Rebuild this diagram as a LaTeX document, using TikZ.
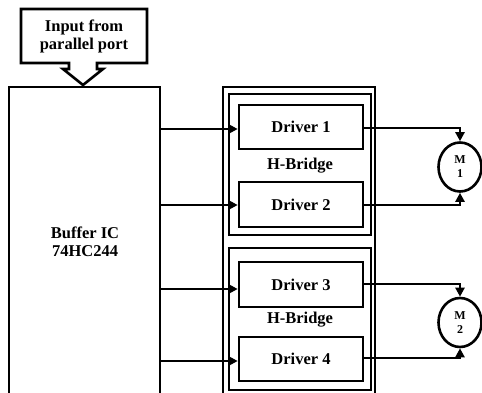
\documentclass[tikz,border=0pt]{standalone}
\usepackage{fontspec}
\setmainfont{Liberation Serif}
\usetikzlibrary{arrows.meta,shapes.geometric}
\tikzset{
  line/.style={line width=2.6pt},
  box/.style={draw, line width=2.6pt, rectangle, inner sep=0pt, font=\fontsize{16.5}{19}\selectfont\bfseries},
  frame/.style={draw, line width=2.4pt, rectangle, inner sep=0pt},
  lbl/.style={inner sep=0pt, align=center, font=\fontsize{16.5}{19}\selectfont\bfseries},
  arr/.style={line width=2.6pt, -{Triangle[length=9pt,width=9pt]}},
  motor/.style={draw, line width=2.6pt, ellipse, inner sep=0pt, minimum width=43pt, minimum height=49pt, align=center, font=\fontsize{12}{14}\selectfont\bfseries}
}
\begin{document}
\begin{tikzpicture}[x=1pt,y=-1pt]
\useasboundingbox (0,0) rectangle (482,392);
\clip (0,0) rectangle (482,392);
% input shape
\draw[line, line join=miter] (69,63) -- (21,63) -- (21,9) -- (147,9) -- (147,63) -- (97,63) -- (97,69) -- (103,69) -- (83,85) -- (63,69) -- (69,69) -- cycle;
\node[lbl] (input) at (84,36) {Input from\\[-1pt]parallel port};
% buffer
\node[frame, line width=2.6pt, minimum width=151pt, minimum height=310pt] (buffer) at (84.5,242) {};
\node[lbl] (buftext) at (85,242) {Buffer IC\\[-1pt]74HC244};
% H-bridge frames
\node[frame, minimum width=152pt, minimum height=320pt] (outer) at (299,247) {};
\node[frame, minimum width=142pt, minimum height=141pt] (hb1) at (300,164.5) {};
\node[frame, minimum width=142pt, minimum height=142pt] (hb2) at (300,319) {};
% drivers
\node[box, fill=white, minimum width=124pt, minimum height=44pt] (d1) at (301,127) {Driver 1};
\node[box, fill=white, minimum width=124pt, minimum height=45pt] (d2) at (301,204.5) {Driver 2};
\node[box, fill=white, minimum width=124pt, minimum height=45pt] (d3) at (301,284.5) {Driver 3};
\node[box, fill=white, minimum width=124pt, minimum height=44pt] (d4) at (301,359) {Driver 4};
\node[lbl] (hl1) at (300,166) {H-Bridge};
\node[lbl] (hl2) at (300,320) {H-Bridge};
% motors
\node[motor] (m1) at (460,167) {M\\1};
\node[motor] (m2) at (460,322.5) {M\\2};
% buffer to drivers
\draw[arr] (buffer.east |- 0,129) -- (d1.west |- 0,129);
\draw[arr] (buffer.east |- 0,205) -- (d2.west |- 0,205);
\draw[arr] (buffer.east |- 0,289) -- (d3.west |- 0,289);
\draw[arr] (buffer.east |- 0,361) -- (d4.west |- 0,361);
% drivers to motors
\draw[arr] (d1.east |- 0,128) -| (m1.north);
\draw[arr] (d2.east |- 0,205) -| (m1.south);
\draw[arr] (d3.east |- 0,284) -| (m2.north);
\draw[arr] (d4.east |- 0,358) -| (m2.south);
\end{tikzpicture}
\end{document}
